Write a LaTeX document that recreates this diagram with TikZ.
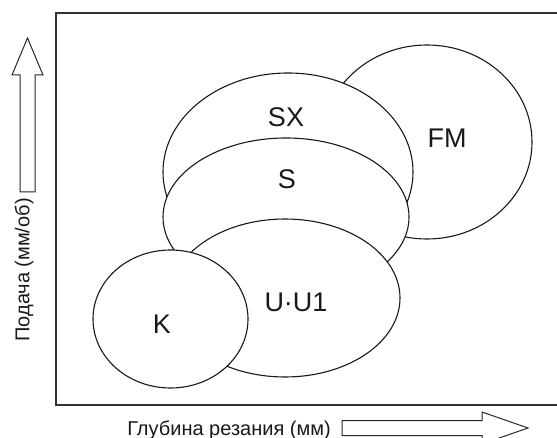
\documentclass[tikz,border=0pt]{standalone}
\usepackage{fontspec}
\setmainfont{Liberation Sans}
\tikzset{
	zone/.style={draw=black!90, fill=white, line width=1.1pt},
	zonelabel/.style={font=\fontsize{27}{27}\selectfont, text=black!90},
	axislabel/.style={font=\fontsize{20}{20}\selectfont, text=black!90},
	bigarrow/.style={draw=black!85, fill=white, line width=1pt, line join=miter},
}
\begin{document}
\begin{tikzpicture}[x=1pt, y=-1pt]
	% Page and frame:
	\useasboundingbox (0, 0) rectangle (557, 438);
	\draw[black!80, line width=1.6pt] (560, 13) -| (56, 405) -- (560, 405);
	% Zones, back to front:
	\draw[zone] (427, 142) ellipse [x radius=105pt, y radius=97pt];
	\draw[zone] (288, 172) ellipse [x radius=125pt, y radius=99pt];
	\draw[zone] (286, 217) ellipse [x radius=123pt, y radius=79pt];
	\draw[zone] (285, 298) ellipse [x radius=115pt, y radius=79pt];
	\draw[zone] (170.5, 319) ellipse [x radius=77.5pt, y radius=69pt];
	\node[zonelabel](FM) at (447, 138){FM};
	\node[zonelabel](SX) at (286, 117){SX};
	\node[zonelabel](S) at (287, 179){S};
	\node[zonelabel](UU1) at (296, 302){U·U1};
	\node[zonelabel](K) at (162, 324){K};
	% Axes:
	\draw[bigarrow] (20, 192) -- (20, 75) -- (12, 75) -- (27.5, 38) -- (43, 75) -- (35, 75) -- (35, 192) -- cycle;
	\node[axislabel, rotate=90](Feed) at (24, 270){Подача (мм/об)};
	\draw[bigarrow] (342, 420.5) -- (482, 420.5) -- (482, 412) -- (528, 428) -- (482, 444) -- (482, 435.5) -- (342, 435.5) -- cycle;
	\node[axislabel, anchor=base](Depth) at (229, 435){Глубина резания (мм)};
\end{tikzpicture}
\end{document}
